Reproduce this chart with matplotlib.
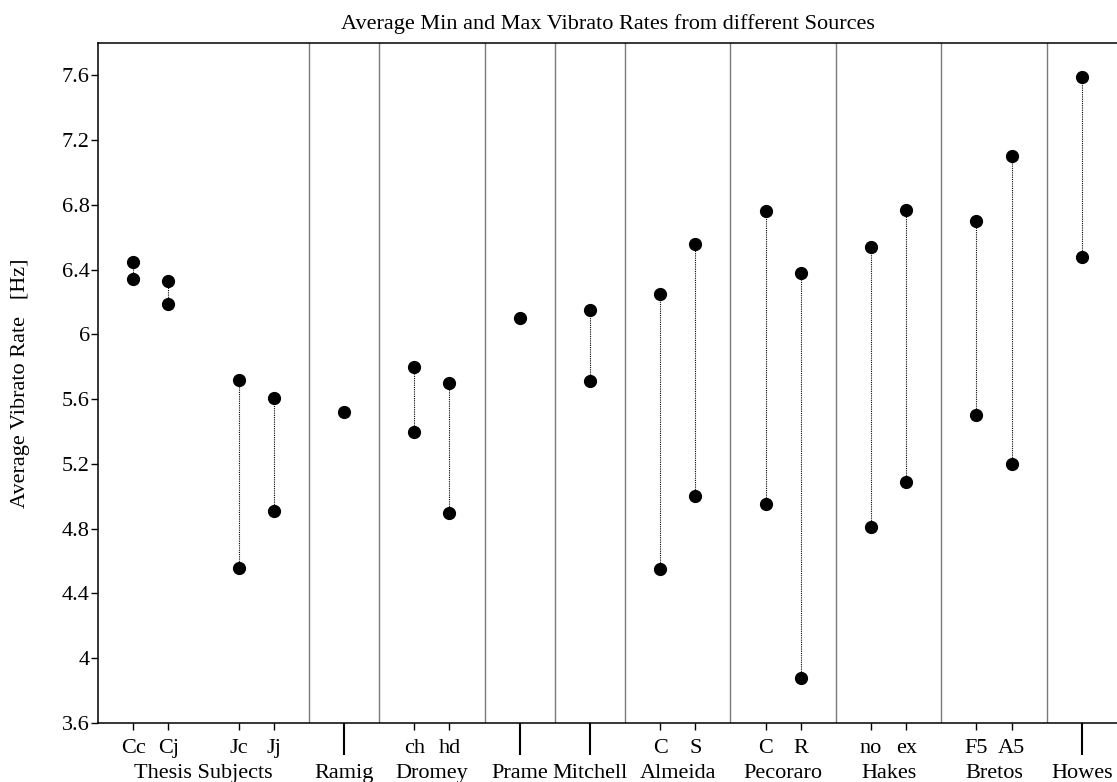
import numpy as np
import matplotlib.pyplot as plt

# average vibrato rates [Hz]
plt.rcParams['font.family'] = ['Liberation Serif', 'DejaVu Serif']

groups = ['Thesis Subjects', 'Ramig', 'Dromey', 'Prame', 'Mitchell',
          'Almeida', 'Pecoraro', 'Hakes', 'Bretos', 'Howes']
sub_labels = ['Cc', 'Cj', 'Jc', 'Jj', '', 'ch', 'hd', '', '',
              'C', 'S', 'C', 'R', 'no', 'ex', 'F5', 'A5', '']
group_of = [0, 0, 0, 0, 1, 2, 2, 3, 4, 5, 5, 6, 6, 7, 7, 8, 8, 9]
rate_max = [6.45, 6.33, 5.72, 5.61, 5.52, 5.80, 5.70, 6.10, 6.15,
            6.25, 6.56, 6.76, 6.38, 6.54, 6.77, 6.70, 7.10, 7.59]
rate_min = [6.34, 6.19, 4.56, 4.91, np.nan, 5.40, 4.90, np.nan, 5.71,
            4.55, 5.00, 4.95, 3.88, 4.81, 5.09, 5.50, 5.20, 6.48]

# layout: x slot for every entry, and the dividers between sources
xpos = np.array([1, 2, 4, 5, 7, 9, 10, 12, 14, 16, 17, 19, 20, 22, 23, 25, 26, 28])
dividers = [6, 8, 11, 13, 15, 18, 21, 24, 27]

W, H = 1117, 782
fig = plt.figure(figsize=(W/100, H/100), dpi=100)
ax = fig.add_axes([98/W, 1-723/H, 1-98/W, (723-43)/H])

for d in dividers:
    ax.axvline(d, color='#7a7a7a', lw=1.0, zorder=1)

for x, lo, hi in zip(xpos, rate_min, rate_max):
    if not np.isnan(lo):
        ax.plot([x, x], [lo, hi], color='k', lw=0.8, ls=(0, (1, 1)), zorder=2)

ax.plot(xpos, rate_max, 'o', color='k', ms=8.5, zorder=3)
ax.plot(xpos, rate_min, 'o', color='k', ms=8.5, zorder=3)

ax.set_xlim(0, 29)
ax.set_ylim(3.6, 7.8)

yt = np.round(np.arange(3.6, 7.61, 0.4), 1)
ax.set_yticks(yt)
ax.set_yticklabels(['%g' % v for v in yt], fontsize=16)
ax.tick_params(axis='y', direction='out', length=5, width=1.0, pad=1)

sub_x = [x for x, s in zip(xpos, sub_labels) if s]
single_x = [x for x, s in zip(xpos, sub_labels) if not s]
ax.set_xticks(sub_x)
ax.set_xticklabels([])
ax.set_xticks(single_x, minor=True)
ax.tick_params(axis='x', which='major', direction='out', length=5, width=1.0)
ax.tick_params(axis='x', which='minor', direction='out', length=23, width=1.5)

for x, s in zip(xpos, sub_labels):
    if s:
        ax.annotate(s, xy=(x, 0), xycoords=('data', 'axes fraction'),
                    xytext=(0, -21.6), textcoords='offset points',
                    ha='center', va='baseline', fontsize=16)

for g, name in enumerate(groups):
    xs = [x for x, k in zip(xpos, group_of) if k == g]
    cx = 3 if g == 0 else np.mean(xs)
    ax.annotate(name, xy=(cx, 0), xycoords=('data', 'axes fraction'),
                xytext=(0, -39.6), textcoords='offset points',
                ha='center', va='baseline', fontsize=16)

for side in ['left', 'bottom', 'top']:
    ax.spines[side].set_linewidth(1.1)
ax.spines['right'].set_visible(False)

fig.text(608/W, 1-29/H, 'Average Min and Max Vibrato Rates from different Sources',
         ha='center', va='baseline', fontsize=16)
fig.text(21/W, 1-383/H, 'Average Vibrato Rate   [Hz]', rotation=90,
         ha='center', va='center', fontsize=16)

fig.savefig('out.png', dpi=100)
